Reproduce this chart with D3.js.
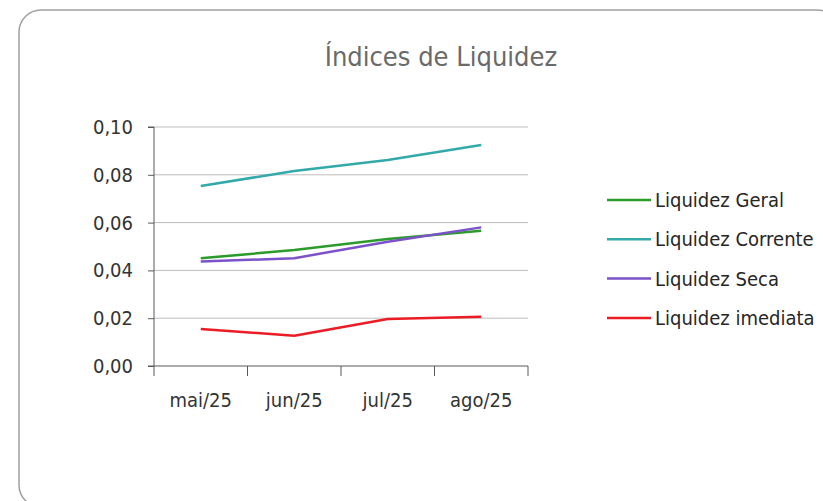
<!DOCTYPE html>
<html>
<head>
<meta charset="utf-8">
<script src="https://cdn.jsdelivr.net/npm/d3@7"></script>
<style>
  body { margin: 0; background: #fff; }
  .axis text { font-family: "Liberation Sans Narrow", "DejaVu Sans Condensed", sans-serif; font-size: 20px; fill: #333; }
  .axis path, .axis line { stroke: #595959; }
</style>
</head>
<body>
<div id="line-chart"></div>
<script>
// data
var months = ["mai/25", "jun/25", "jul/25", "ago/25"];
var seriesNames = ["Liquidez Geral", "Liquidez Corrente", "Liquidez Seca", "Liquidez imediata"];
var seriesColors = ["#2b9b2b", "#33a9a9", "#7b52c9", "#ec1c24"];
var geral = [0.0451, 0.0485, 0.0531, 0.0566];
var corrente = [0.0753, 0.0816, 0.0862, 0.0925];
var seca = [0.0437, 0.0451, 0.0520, 0.0580];
var imediata = [0.0155, 0.0127, 0.0197, 0.0206];
var yTicks = [0, 0.02, 0.04, 0.06, 0.08, 0.10];

function init() {
  var W = 823, H = 501;
  const margin = { top: 127, left: 154 };
  var w = 374;
  var h = 239;

  var font = '"Liberation Sans Narrow", "DejaVu Sans Condensed", sans-serif';
  var fmt = function (d) { return d.toFixed(2).replace(".", ","); };

  var dataset = [geral, corrente, seca, imediata].map(function (vals, i) {
    return { name: seriesNames[i], color: seriesColors[i], values: vals };
  });

  var root = d3.select("#line-chart").append("svg")
    .attr("width", W).attr("height", H);

  // rounded frame
  root.append("rect")
    .attr("x", 19).attr("y", 10)
    .attr("width", 820).attr("height", 497)
    .attr("rx", 22).attr("ry", 22)
    .attr("fill", "#fff")
    .attr("stroke", "#a0a0a0")
    .attr("stroke-width", 1.5);

  // title
  root.append("text")
    .attr("x", 441).attr("y", 66)
    .attr("text-anchor", "middle")
    .style("font-family", font)
    .style("font-size", "27px")
    .style("fill", "#6a6a6a")
    .text("Índices de Liquidez");

  var svg = root.append("g")
    .attr("transform", "translate(" + margin.left + "," + margin.top + ")");

  var xScale = d3.scaleBand().domain(months).range([0, w]);
  var yScale = d3.scaleLinear().domain([0, 0.10]).range([h, 0]);

  // gridlines
  svg.append("g")
    .selectAll("line")
    .data(yTicks.filter(function (d) { return d > 0; }))
    .enter().append("line")
    .attr("x1", 0).attr("x2", w)
    .attr("y1", function (d) { return yScale(d); })
    .attr("y2", function (d) { return yScale(d); })
    .attr("stroke", "#bdbdbd")
    .attr("stroke-width", 1);

  // axes
  var yAxis = d3.axisLeft(yScale).tickValues(yTicks).tickFormat(fmt).tickSize(6).tickPadding(15);
  svg.append("g").attr("class", "axis").call(yAxis).call(function (g) {
    g.select(".domain").attr("d", "M-6," + h + "H0V0H-6");
  });

  var xAxis = d3.axisBottom(xScale).tickSize(0).tickPadding(27);
  var gx = svg.append("g").attr("class", "axis")
    .attr("transform", "translate(0," + h + ")")
    .call(xAxis);
  gx.select(".domain").attr("d", "M0,0H" + w);
  // tick marks at band edges
  gx.selectAll(".edge")
    .data(months.map(function (m) { return xScale(m); }).concat([w]))
    .enter().append("line")
    .attr("x1", function (d) { return d; }).attr("x2", function (d) { return d; })
    .attr("y1", 0).attr("y2", 10)
    .attr("stroke", "#595959");

  // lines
  var line = d3.line()
    .x(function (d, i) { return xScale(months[i]) + xScale.bandwidth() / 2; })
    .y(function (d) { return yScale(d); });

  svg.selectAll(".series")
    .data(dataset)
    .enter().append("path")
    .attr("class", "series")
    .attr("fill", "none")
    .attr("stroke", function (d) { return d.color; })
    .attr("stroke-width", 2.5)
    .attr("stroke-linejoin", "round")
    .attr("d", function (d) { return line(d.values); });

  // legend
  var legend = root.append("g").attr("transform", "translate(607,200)");
  var item = legend.selectAll("g")
    .data(dataset)
    .enter().append("g")
    .attr("transform", function (d, i) { return "translate(0," + i * 39.3 + ")"; });
  item.append("line")
    .attr("x1", 0).attr("x2", 44)
    .attr("stroke", function (d) { return d.color; })
    .attr("stroke-width", 2.5);
  item.append("text")
    .attr("x", 48).attr("dy", "0.35em")
    .style("font-family", font)
    .style("font-size", "20px")
    .style("fill", "#262626")
    .text(function (d) { return d.name; });
}

window.onload = init;
</script>
</body>
</html>
